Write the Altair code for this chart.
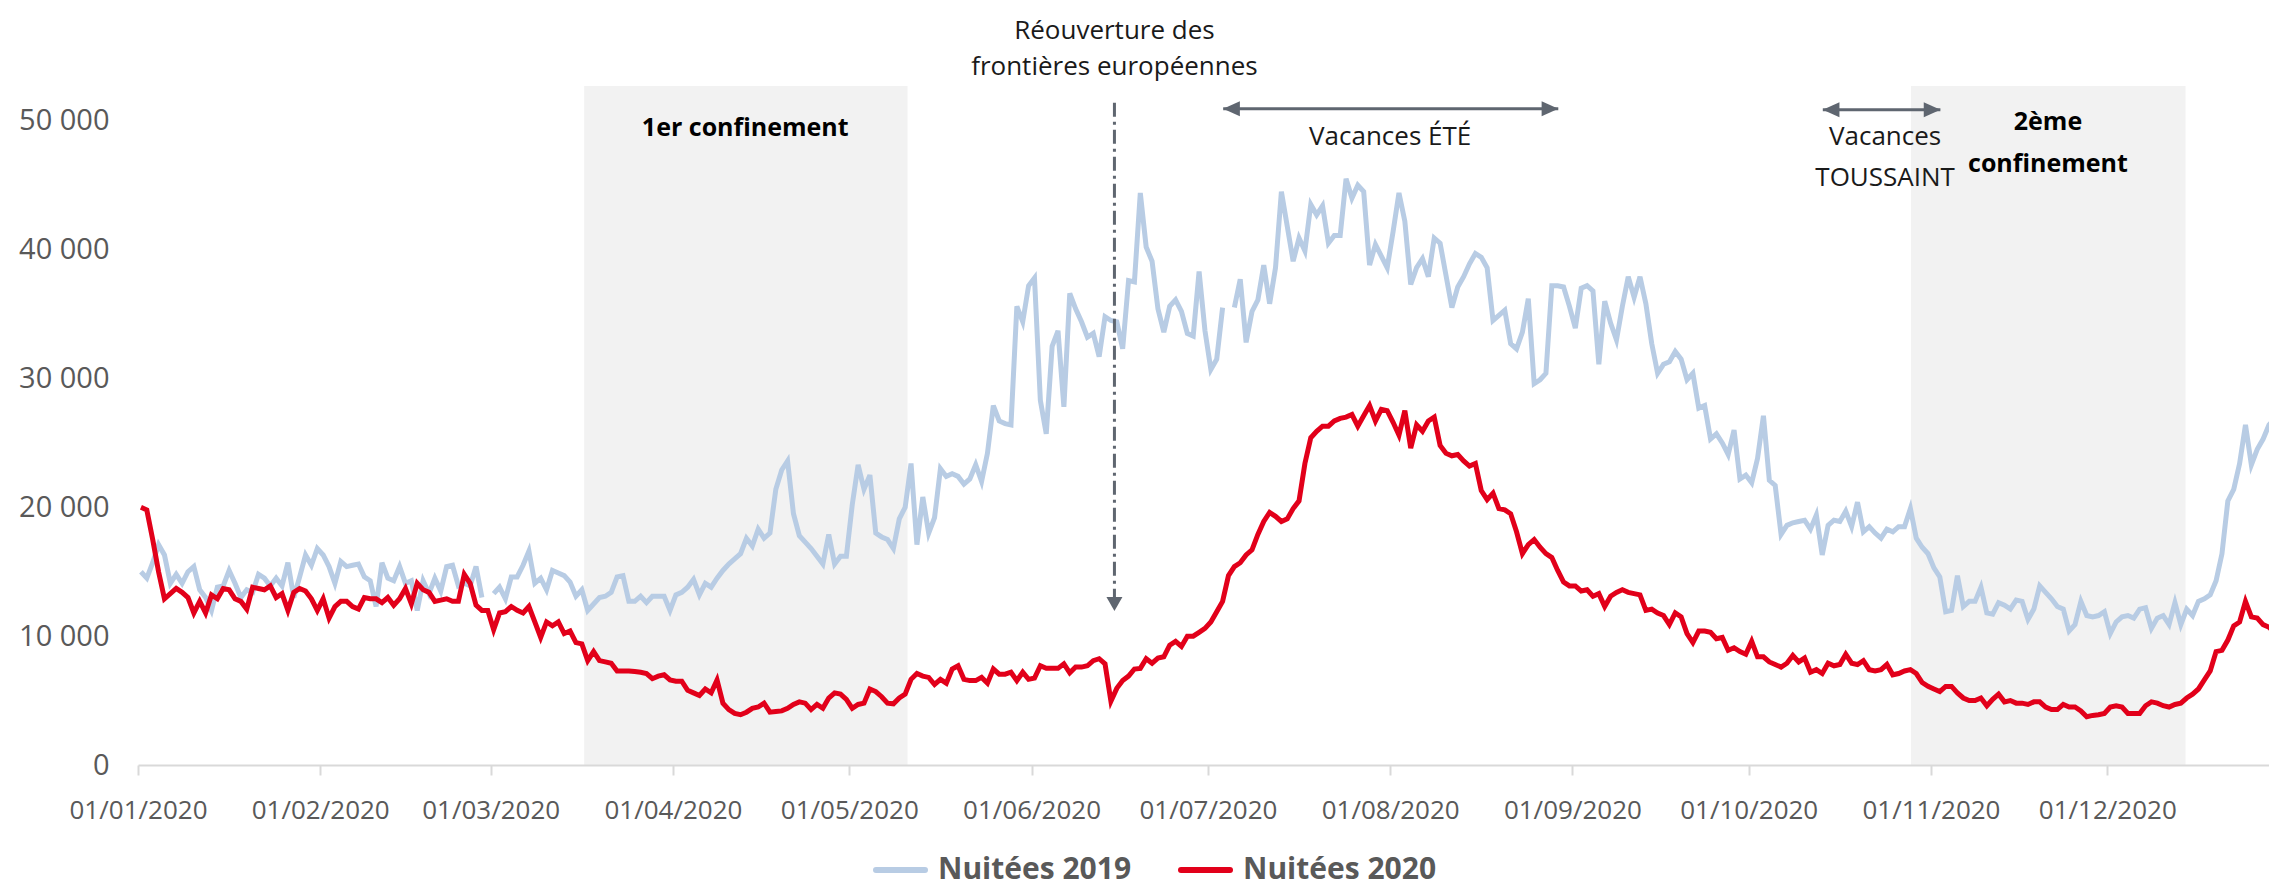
import altair as alt
import pandas as pd

# ---- Daily overnight stays (nuitées) ----
n2020_jan = [20000, 19800, 17500, 15000, 12900, 13300, 13700, 13400, 13000, 11800, 12700, 11800, 13200, 12900, 13700, 13600, 12900, 12700, 12100, 13800, 13700, 13600, 13900, 13000, 13300, 12000, 13400, 13700, 13500, 12900, 12000]
n2020_feb = [12900, 11400, 12300, 12700, 12700, 12300, 12100, 13000, 12900, 12900, 12600, 13000, 12400, 12900, 13700, 12500, 14100, 13600, 13400, 12700, 12800, 12900, 12700, 12700, 14800, 14100, 12400, 12000, 12000]
n2020_mar = [10500, 11800, 11900, 12300, 12000, 11800, 12300, 11100, 9900, 11100, 10800, 11100, 10200, 10400, 9500, 9400, 8100, 8800, 8100, 8000, 7900, 7300, 7300, 7300, 7250, 7200, 7100, 6700, 6900, 7000, 6600]
n2020_apr = [6500, 6500, 5800, 5600, 5400, 5900, 5600, 6600, 4800, 4300, 4000, 3900, 4100, 4400, 4500, 4800, 4100, 4150, 4200, 4400, 4700, 4900, 4800, 4300, 4700, 4400, 5200, 5600, 5500, 5100]
n2020_may = [4400, 4700, 4800, 5900, 5700, 5300, 4800, 4750, 5200, 5500, 6650, 7100, 6900, 6800, 6250, 6650, 6350, 7450, 7700, 6650, 6550, 6550, 6800, 6350, 7450, 7050, 7050, 7200, 6550, 7200, 6650]
n2020_jun = [6750, 7700, 7500, 7500, 7500, 7850, 7150, 7600, 7600, 7700, 8100, 8250, 7850, 4950, 5950, 6550, 6900, 7450, 7500, 8250, 7900, 8300, 8400, 9300, 9600, 9200, 10000, 10000, 10300, 10600]
n2020_jul = [11100, 11900, 12700, 14700, 15400, 15700, 16300, 16700, 17900, 18900, 19600, 19300, 18900, 19100, 19900, 20500, 23400, 25400, 25900, 26300, 26300, 26700, 26900, 27000, 27200, 26300, 27100, 27900, 26700, 27600, 27500]
n2020_aug = [26600, 25600, 27500, 24600, 26400, 25900, 26700, 27000, 24800, 24200, 24000, 24100, 23600, 23200, 23400, 21300, 20600, 21100, 19900, 19800, 19500, 18100, 16400, 17100, 17500, 16900, 16400, 16100, 15100, 14200, 13900]
n2020_sep = [13900, 13500, 13600, 13100, 13300, 12300, 13100, 13400, 13600, 13400, 13300, 13200, 12000, 12100, 11800, 11600, 10900, 11800, 11500, 10200, 9500, 10400, 10400, 10300, 9800, 9900, 8900, 9100, 8800, 8600]
n2020_oct = [9600, 8400, 8400, 8000, 7800, 7600, 7900, 8500, 8000, 8300, 7200, 7400, 7100, 7900, 7700, 7800, 8600, 7900, 7800, 8100, 7400, 7300, 7400, 7800, 7000, 7100, 7300, 7400, 7100, 6400, 6100]
n2020_nov = [5900, 5700, 6100, 6100, 5600, 5200, 5000, 5000, 5200, 4600, 5100, 5500, 4900, 5000, 4800, 4800, 4700, 4900, 4900, 4500, 4300, 4300, 4700, 4500, 4500, 4200, 3750, 3850, 3900, 4000]
n2020_dec = [4500, 4600, 4500, 4000, 4000, 4000, 4600, 4900, 4800, 4600, 4500, 4700, 4800, 5200, 5500, 5900, 6600, 7300, 8800, 8900, 9700, 10800, 11100, 12700, 11500, 11400, 10900, 10700, 10200, 10000, 9800]

n2019_jan = [15000, 14500, 15700, 17100, 16300, 14100, 14800, 14100, 15000, 15400, 13600, 13000, 12000, 13800, 13900, 15100, 14100, 13000, 13600, 13400, 14800, 14500, 13900, 14500, 13900, 15700, 13000, 14600, 16300, 15500, 16800]
n2019_feb = [16300, 15400, 14100, 15800, 15400, 15500, 15600, 14600, 14300, 12300, 15700, 14500, 14300, 15400, 14100, 14300, 12000, 14300, 13300, 14500, 13500, 15400, 15500, 13900, 14100, 13900, 15400, 13000, None]
n2019_mar = [13300, 13800, 12900, 14600, 14600, 15500, 16600, 14100, 14500, 13600, 15100, 14900, 14700, 14200, 13100, 13600, 12000, 12500, 13000, 13100, 13400, 14600, 14700, 12700, 12700, 13100, 12600, 13100, 13100, 13100, 12000]
n2019_apr = [13200, 13400, 13800, 14400, 13200, 14100, 13800, 14500, 15100, 15600, 16000, 16400, 17600, 17000, 18300, 17600, 18000, 21400, 22900, 23600, 19500, 17800, 17300, 16800, 16200, 15600, 17900, 15600, 16200, 16200]
n2019_may = [20200, 23300, 21400, 22500, 18000, 17700, 17500, 16800, 19100, 20000, 23400, 17100, 20800, 18000, 19200, 23000, 22400, 22600, 22400, 21800, 22200, 23300, 22000, 24200, 27900, 26700, 26500, 26400, 35600, 34400, 37200]
n2019_jun = [37800, 28300, 25700, 32500, 33700, 27800, 36600, 35400, 34400, 33200, 33500, 31700, 34800, 34500, 34400, 32300, 37600, 37500, 44400, 40200, 39100, 35400, 33600, 35600, 36100, 35200, 33500, 33300, 38300, 33700]
n2019_jul = [30700, 31500, 35500, None, 35500, 37700, 32800, 35200, 36100, 38800, 35800, 38600, 44500, 41800, 39100, 40900, 39900, 43500, 42700, 43400, 40500, 41100, 41100, 45500, 44000, 45000, 44500, 38800, 40400, 39500, 38600]
n2019_aug = [41400, 44400, 42200, 37300, 38600, 39300, 37900, 40900, 40500, 38000, 35500, 37100, 37900, 38900, 39700, 39400, 38600, 34500, 34900, 35300, 32700, 32300, 33600, 36200, 29600, 29900, 30400, 37200, 37200, 37100, 35600]
n2019_sep = [33900, 37000, 37200, 36800, 31100, 36000, 34300, 33000, 35600, 37900, 36300, 37900, 35800, 32700, 30400, 31100, 31300, 32100, 31500, 29900, 30400, 27700, 27900, 25300, 25700, 25000, 24100, 26000, 22200, 22500]
n2019_oct = [21900, 23800, 27100, 22100, 21700, 17900, 18600, 18800, 18900, 19000, 18300, 19400, 16300, 18600, 19000, 18900, 19700, 18500, 20400, 18100, 18500, 18000, 17600, 18300, 18100, 18500, 18500, 19900, 17600, 16900, 16400]
n2019_nov = [15300, 14600, 11900, 12000, 14700, 12300, 12700, 12700, 13800, 11800, 11700, 12600, 12400, 12100, 12800, 12700, 11300, 12100, 13900, 13400, 12900, 12300, 12100, 10400, 10900, 12700, 11600, 11500, 11600, 11900]
n2019_dec = [10200, 11100, 11500, 11600, 11400, 12100, 12200, 10600, 11400, 11600, 10900, 12600, 10900, 12100, 11600, 12700, 12900, 13200, 14300, 16400, 20500, 21400, 23400, 26400, 23300, 24500, 25300, 26400, 26900, 24100, 24000]

month_labels = ["01/01/2020", "01/02/2020", "01/03/2020", "01/04/2020", "01/05/2020", "01/06/2020",
                "01/07/2020", "01/08/2020", "01/09/2020", "01/10/2020", "01/11/2020", "01/12/2020"]
month_lengths = [31, 29, 31, 30, 31, 30, 31, 31, 30, 31, 30, 31]

# events (day of year, 0 = 1 Jan 2020)
lockdown_start = [75.9, 301.6]
lockdown_end = [130.9, 348.3]
reopening_day = 166.1
holiday_start = [184.6, 286.6]
holiday_end = [241.6, 306.6]

annot_text = ["Réouverture des", "frontières européennes", "Vacances ÉTÉ", "Vacances", "TOUSSAINT"]
annot_x = [166.1, 166.1, 213.0, 297.2, 297.2]
annot_y = [56950, 54150, 48727, 48727, 45575]
bold_text = ["1er confinement", "2ème", "confinement"]
bold_x = [103.3, 324.9, 324.9]
bold_y = [49440, 49907, 46677]

legend_labels = ["Nuitées 2019", "Nuitées 2020"]
series_colors = ["#b8cce4", "#e2001a"]

# ---- Build tables ----
n2020 = sum([n2020_jan, n2020_feb, n2020_mar, n2020_apr, n2020_may, n2020_jun,
             n2020_jul, n2020_aug, n2020_sep, n2020_oct, n2020_nov, n2020_dec], [])
n2019 = sum([n2019_jan, n2019_feb, n2019_mar, n2019_apr, n2019_may, n2019_jun,
             n2019_jul, n2019_aug, n2019_sep, n2019_oct, n2019_nov, n2019_dec], [])
assert len(n2020) == 366 and len(n2019) == 366

df20 = pd.DataFrame({"x": [d + 0.5 for d in range(366)], "y": n2020})
df19 = pd.DataFrame({"x": [d + 0.5 for d in range(366)], "y": n2019})
df19["seg"] = df19["y"].isna().cumsum()
df19 = df19.dropna()

month_starts = [sum(month_lengths[:i]) for i in range(12)]

W, H = 2131, 679
YMAX = 52700
XMAX = 362.5
FONT = "Open Sans"
GREY = "#595959"
ARROW = "#5f6670"

xs = alt.Scale(domain=[0, XMAX], nice=False, zero=False)
ys = alt.Scale(domain=[0, YMAX], nice=False, zero=True)

label_expr = ("[" + ",".join(f"'{l}'" for l in month_labels) + "][indexof(["
              + ",".join(str(m) for m in month_starts) + "], datum.value)]")

x_axis = alt.Axis(values=month_starts, labelExpr=label_expr, title=None, grid=False,
                  domainColor="#d9d9d9", domainWidth=2, tickColor="#d9d9d9", tickWidth=2,
                  tickSize=10, labelFontSize=26, labelColor=GREY, labelFont=FONT,
                  labelPadding=22, labelOverlap=False, labelFlush=False, zindex=1)
y_axis = alt.Axis(values=[0, 10000, 20000, 30000, 40000, 50000],
                  labelExpr="replace(format(datum.value, ','), ',', ' ')",
                  title=None, grid=False, domain=False, ticks=False,
                  labelFontSize=29, labelColor=GREY, labelFont=FONT, labelPadding=29)

shade_df = pd.DataFrame({"start": lockdown_start, "end": lockdown_end})
shade = alt.Chart(shade_df).mark_rect(color="#f2f2f2").encode(
    x=alt.X("start:Q", scale=xs, axis=x_axis),
    x2="end:Q",
    y=alt.value(0), y2=alt.value(H),
)

line19 = alt.Chart(df19).mark_line(color=series_colors[0], strokeWidth=5, clip=True).encode(
    x=alt.X("x:Q", scale=xs),
    y=alt.Y("y:Q", scale=ys, axis=y_axis),
    detail="seg:N",
)
line20 = alt.Chart(df20).mark_line(color=series_colors[1], strokeWidth=5, clip=True).encode(
    x=alt.X("x:Q", scale=xs),
    y=alt.Y("y:Q", scale=ys),
)

# reopening arrow (dash-dot, pointing down)
reo_df = pd.DataFrame({"x": [reopening_day], "top": [51400], "bottom": [13000], "tip": [12500]})
reo_rule = alt.Chart(reo_df).mark_rule(color=ARROW, strokeWidth=3, strokeDash=[14, 5, 3, 5]).encode(
    x=alt.X("x:Q", scale=xs), y=alt.Y("top:Q", scale=ys), y2="bottom:Q")
reo_head = alt.Chart(reo_df).mark_point(shape="M-1,-0.875L1,-0.875L0,0.875Z", filled=True,
                                        opacity=1, color=ARROW, size=256).encode(
    x=alt.X("x:Q", scale=xs), y=alt.Y("tip:Q", scale=ys))

# holiday double arrows
hol_df = pd.DataFrame({"start": holiday_start, "end": holiday_end, "y": [50930, 50850]})
hol_rule = alt.Chart(hol_df).mark_rule(color=ARROW, strokeWidth=3).encode(
    x=alt.X("start:Q", scale=xs), x2="end:Q", y=alt.Y("y:Q", scale=ys))
hol_left = alt.Chart(hol_df).mark_point(shape="M-1,0L1,-0.9L1,0.9Z", filled=True, opacity=1,
                                        color=ARROW, size=279, xOffset=8.3).encode(
    x=alt.X("start:Q", scale=xs), y=alt.Y("y:Q", scale=ys))
hol_right = alt.Chart(hol_df).mark_point(shape="M1,0L-1,-0.9L-1,0.9Z", filled=True, opacity=1,
                                         color=ARROW, size=279, xOffset=-8.3).encode(
    x=alt.X("end:Q", scale=xs), y=alt.Y("y:Q", scale=ys))

ann_df = pd.DataFrame({"x": annot_x, "y": annot_y, "t": annot_text})
ann = alt.Chart(ann_df).mark_text(font=FONT, fontSize=26, color="#1a1a1a",
                                  align="center", baseline="middle").encode(
    x=alt.X("x:Q", scale=xs), y=alt.Y("y:Q", scale=ys), text="t:N")
bold_df = pd.DataFrame({"x": bold_x, "y": bold_y, "t": bold_text})
bold = alt.Chart(bold_df).mark_text(font=FONT, fontSize=25, fontWeight="bold", color="#000000",
                                    align="center", baseline="middle").encode(
    x=alt.X("x:Q", scale=xs), y=alt.Y("y:Q", scale=ys), text="t:N")

# legend (drawn below the plot)
LEG_Y = 784
legend_layers = []
for label, color, x0 in [(legend_labels[0], series_colors[0], 735.0),
                         (legend_labels[1], series_colors[1], 1040.0)]:
    ldf = pd.DataFrame({"label": [label]})
    legend_layers.append(alt.Chart(ldf).mark_rule(color=color, strokeWidth=6, strokeCap="round").encode(
        x=alt.value(x0 + 3), x2=alt.value(x0 + 52), y=alt.value(LEG_Y)))
    legend_layers.append(alt.Chart(ldf).mark_text(font=FONT, fontSize=30, fontWeight="bold", color=GREY,
                                                  align="left", baseline="middle").encode(
        x=alt.value(x0 + 65), y=alt.value(LEG_Y), text="label:N"))

chart = alt.layer(shade, line19, line20, reo_rule, reo_head, hol_rule, hol_left, hol_right,
                  ann, bold, *legend_layers).properties(
    width=W, height=H,
    autosize=alt.AutoSizeParams(type="none"),
    padding={"left": 130, "top": 78, "right": 0, "bottom": 126},
    background="white",
).configure_view(stroke=None)

chart.save("out.html", embed_options={"renderer": "svg", "actions": False})
